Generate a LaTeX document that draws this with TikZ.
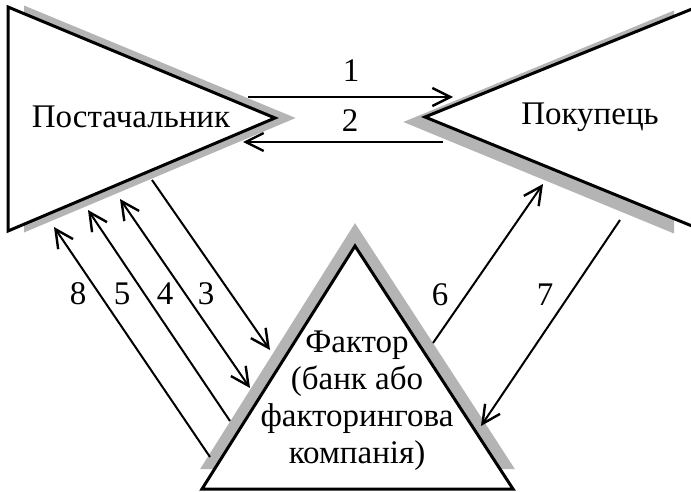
\documentclass[tikz,border=0pt]{standalone}
\usepackage{fontspec}
\setmainfont{Liberation Serif}
\usetikzlibrary{arrows.meta}
\begin{document}
\begin{tikzpicture}[x=1pt,y=-1pt,
  shadowfill/.style={fill=shade,draw=shade,line width=2pt,line join=miter},
  outline/.style={draw=black,line width=3pt,line join=miter},
  tip/.style={Straight Barb[length=18pt,width=18pt,line width=2.4pt]},
  conn/.style={draw=black,line width=2pt,-{Straight Barb[length=18pt,width=18pt,line width=2.4pt]}},
  conn2/.style={draw=black,line width=2pt,{Straight Barb[length=18pt,width=18pt,line width=2.4pt]}-{Straight Barb[length=18pt,width=18pt,line width=2.4pt]}},
  lbl/.style={font=\fontsize{33}{37}\selectfont,inner sep=0pt}]
\definecolor{shade}{RGB}{180,180,180}
\useasboundingbox (0,0) rectangle (691,492);
\fill[white] (0,0) rectangle (691,492);
% shadows
\path[shadowfill] (25,7) -- (293,118) -- (25,231) -- cycle;
\path[shadowfill] (673,12) -- (406,122) -- (673,232) -- cycle;
\path[shadowfill] (202,468) -- (355,225) -- (513,468) -- cycle;
% main shapes
\fill[white] (8,7) -- (275,118) -- (8,231) -- cycle;
\draw[outline] (8,7) -- (275,118) -- (8,231) -- cycle;
\fill[white] (692,9) -- (425,117) -- (692,226) -- cycle;
\draw[outline] (692,9) -- (425,117) -- (692,226);
\fill[white] (202,489) -- (355,246) -- (513,489) -- cycle;
\draw[outline] (202,489) -- (355,246) -- (513,489) -- cycle;
% texts
\node[lbl] (sup) at (131,117) {Постачальник};
\node[lbl] (buy) at (590,117) {Покупець};
\node[lbl,align=center] (fac) at (357,401) {Фактор\\(банк або\\факторингова\\компанія)};
% connector end points
\coordinate (a1s) at (248,97);  \coordinate (a1e) at (453,97);
\coordinate (a2s) at (443,142); \coordinate (a2e) at (243,142);
\coordinate (a3s) at (152,180); \coordinate (a3e) at (270,350);
\coordinate (a4s) at (120,199); \coordinate (a4e) at (250,388);
\coordinate (a5s) at (230,421); \coordinate (a5e) at (88,210);
\coordinate (a8s) at (210,457); \coordinate (a8e) at (54,227);
\coordinate (a6s) at (433,343); \coordinate (a6e) at (543,184);
\coordinate (a7s) at (620,220); \coordinate (a7e) at (481,426);
% connectors
\draw[conn] (a1s) -- (a1e);
\draw[conn] (a2s) -- (a2e);
\draw[conn] (a3s) -- (a3e);
\draw[conn2] (a4s) -- (a4e);
\draw[conn] (a5s) -- (a5e);
\draw[conn] (a8s) -- (a8e);
\draw[conn] (a6s) -- (a6e);
\draw[conn] (a7s) -- (a7e);
% labels
\node[lbl] (n1) at (351,71) {1};
\node[lbl] (n2) at (350,121) {2};
\node[lbl] (n8) at (78,294) {8};
\node[lbl] (n5) at (122,294) {5};
\node[lbl] (n4) at (165,294) {4};
\node[lbl] (n3) at (206,294) {3};
\node[lbl] (n6) at (440,295) {6};
\node[lbl] (n7) at (545,295) {7};
\end{tikzpicture}
\end{document}
